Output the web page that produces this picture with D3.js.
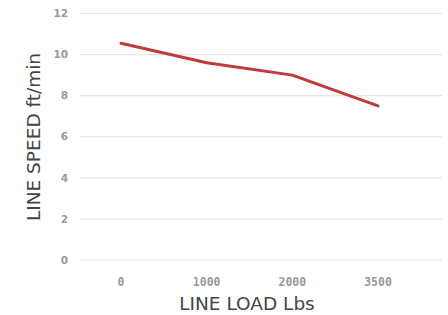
<!DOCTYPE html>
<html><head><meta charset="utf-8">
<script src="https://cdn.jsdelivr.net/npm/d3@7"></script>
<style>body{margin:0;background:#fff}</style>
</head><body><svg id="c" width="448" height="315"></svg>
<script>
const categories = ["0","1000","2000","3500"];
const speeds = [10.55, 9.6, 9.0, 7.5];
const yTicks = [0,2,4,6,8,10,12];
const xTitle = "LINE LOAD Lbs";
const yTitle = "LINE SPEED ft/min";

const svg = d3.select("#c");
const x = d3.scalePoint().domain(categories).range([121, 378]);
const y = d3.scaleLinear().domain([0,12]).range([260, 13.5]);

svg.append("g").selectAll("line").data(yTicks).join("line")
  .attr("x1",80).attr("x2",442)
  .attr("y1",d=>y(d)).attr("y2",d=>y(d))
  .attr("stroke","#e6e6e6").attr("stroke-width",1.2);

svg.append("g").selectAll("text").data(yTicks).join("text")
  .attr("x",68).attr("y",d=>y(d)).attr("dy","0.35em")
  .attr("text-anchor","end")
  .attr("font-family","DejaVu Sans").attr("font-weight","bold")
  .attr("font-size",10.5).attr("fill","#999").text(d=>d);

svg.append("g").selectAll("text").data(categories).join("text")
  .attr("x",d=>x(d)).attr("y",282).attr("dy","0.35em")
  .attr("text-anchor","middle")
  .attr("font-family","DejaVu Sans Mono").attr("font-weight","bold")
  .attr("font-size",11.5).attr("fill","#999").text(d=>d);

svg.append("path").datum(categories.map((c,i)=>[c,speeds[i]]))
  .attr("fill","none").attr("stroke","#c1393d").attr("stroke-width",3)
  .attr("stroke-linecap","round").attr("stroke-linejoin","round")
  .attr("d", d3.line().x(d=>x(d[0])).y(d=>y(d[1])));

svg.append("text").attr("x",247).attr("y",304).attr("dy","0.35em")
  .attr("text-anchor","middle").attr("font-family","DejaVu Sans")
  .attr("font-size",18.5).attr("fill","#444").text(xTitle);

svg.append("text").attr("transform","translate(34,137) rotate(-90)")
  .attr("dy","0.35em").attr("text-anchor","middle").attr("font-family","DejaVu Sans")
  .attr("font-size",18.5).attr("fill","#444").text(yTitle);
</script></body></html>
